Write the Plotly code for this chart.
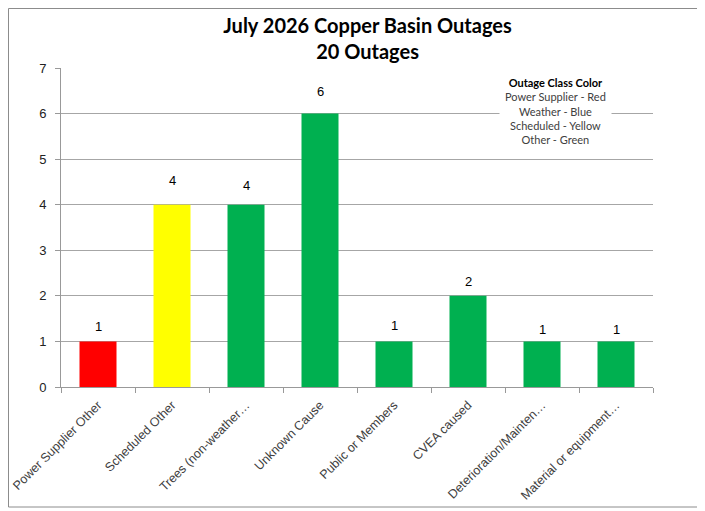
import plotly.graph_objects as go

# outage counts by cause
causes = ["Power Supplier Other", "Scheduled Other", "Trees (non-weather…",
          "Unknown Cause", "Public or Members", "CVEA caused",
          "Deterioration/Mainten…", "Material or equipment…"]
counts = [1, 4, 4, 6, 1, 2, 1, 1]
bar_colors = ["#FF0000", "#FFFF00", "#00B050", "#00B050",
              "#00B050", "#00B050", "#00B050", "#00B050"]
# how far (px) each value label sits above its bar, as in the original
label_lift = [15, 24, 19, 22, 16, 14, 12, 12]

L, R, T, B = 53, 60, 60, 132
W, H = 705, 511
pw, ph = W - L - R, H - T - B

fig = go.Figure()
fig.add_trace(go.Bar(
    x=causes, y=counts,
    marker=dict(color=bar_colors, line=dict(width=0)),
    width=0.5,
    hoverinfo="x+y",
))

# value labels above the bars
for c, v, lift in zip(causes, counts, label_lift):
    fig.add_annotation(x=c, y=v, text=str(v), showarrow=False,
                       yanchor="middle", yshift=lift,
                       font=dict(family="Liberation Sans", size=13, color="#000000"))

# colour key box
fig.add_annotation(
    xref="paper", yref="paper", x=0.835, y=0.994, xanchor="center", yanchor="top",
    text="<b><span style='color:#000000'>Outage Class Color</span></b><br>Power Supplier - Red<br>Weather - Blue"
         "<br>Scheduled - Yellow<br>Other - Green",
    showarrow=False, align="center", bgcolor="white", borderpad=5,
    font=dict(family="Lato", size=11, color="#404040"),
)

# outer border
fig.add_shape(type="rect", xref="paper", yref="paper",
              x0=(-L + 0.5) / pw, x1=(694 - L) / pw,
              y0=-(B - 12) / ph, y1=1 + (T - 0.5) / ph,
              line=dict(color="#8c8c8c", width=1), layer="below")

fig.update_layout(
    width=W, height=H,
    margin=dict(l=L, r=R, t=T, b=B),
    paper_bgcolor="white", plot_bgcolor="white",
    title=dict(text="<b>July 2026 Copper Basin Outages<br>20 Outages</b>",
               x=0.51, xanchor="center", y=0.951, yanchor="top",
               font=dict(family="Lato", size=20, color="#000000")),
    showlegend=False,
    bargap=0.5,
)
fig.update_xaxes(
    tickangle=-45, tickson="boundaries", ticks="outside", ticklen=5,
    tickcolor="#999999", showline=True, linecolor="#999999",
    ticklabelstandoff=5, automargin=False,
    tickfont=dict(family="Liberation Sans", size=12.5, color="#404040"),
)
fig.update_yaxes(
    range=[0, 7], dtick=1, showgrid=True, gridcolor="#a6a6a6",
    ticks="outside", ticklen=5, tickcolor="#999999",
    showline=True, linecolor="#999999", zeroline=False,
    ticklabelstandoff=6, automargin=False,
    tickfont=dict(family="Liberation Sans", size=13, color="#222222"),
)

fig.write_html("out.html")
